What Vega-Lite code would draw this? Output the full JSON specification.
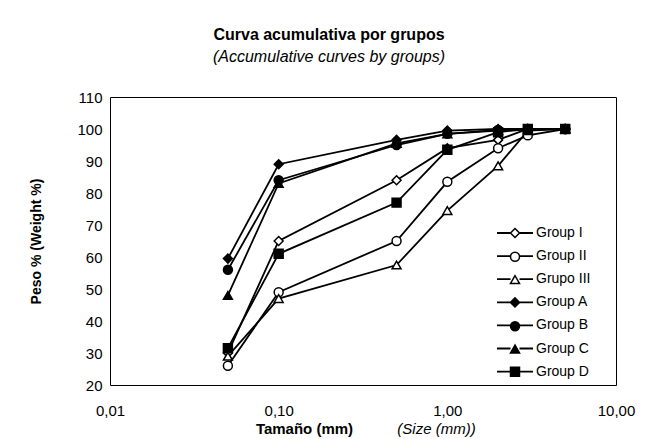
{
  "$schema": "https://vega.github.io/schema/vega-lite/v6.json",
  "width": 506,
  "height": 288,
  "autosize": {"type": "none"},
  "padding": {"left": 110, "top": 97, "right": 39, "bottom": 54},
  "background": "white",
  "config": {
    "view": {"stroke": "black", "strokeWidth": 1},
    "font": "Liberation Sans",
    "axis": {"grid": false, "ticks": false, "domain": false, "labelColor": "black", "titleColor": "black", "labelFont": "Liberation Sans", "titleFont": "Liberation Sans", "labelOverlap": false},
    "legend": {"labelFont": "Liberation Sans", "labelColor": "black"}
  },
  "title": {
    "text": "Curva acumulativa por grupos",
    "subtitle": "(Accumulative curves by groups)",
    "anchor": "middle",
    "offset": 25,
    "dx": -34,
    "font": "Liberation Sans",
    "fontSize": 16,
    "fontWeight": "bold",
    "color": "black",
    "subtitleFont": "Liberation Sans",
    "subtitleFontSize": 16,
    "subtitleFontStyle": "italic",
    "subtitleColor": "black",
    "subtitlePadding": 6
  },
  "data": {
    "values": [
      {"g": "Group I", "x": 0.05, "y": 30},
      {"g": "Group I", "x": 0.1, "y": 65},
      {"g": "Group I", "x": 0.5, "y": 84},
      {"g": "Group I", "x": 1, "y": 94},
      {"g": "Group I", "x": 2, "y": 96.6},
      {"g": "Group I", "x": 3, "y": 100},
      {"g": "Group I", "x": 5, "y": 100},
      {"g": "Group II", "x": 0.05, "y": 26},
      {"g": "Group II", "x": 0.1, "y": 49},
      {"g": "Group II", "x": 0.5, "y": 65},
      {"g": "Group II", "x": 1, "y": 83.5},
      {"g": "Group II", "x": 2, "y": 94},
      {"g": "Group II", "x": 3, "y": 98},
      {"g": "Group II", "x": 5, "y": 100},
      {"g": "Grupo III", "x": 0.05, "y": 29},
      {"g": "Grupo III", "x": 0.1, "y": 47},
      {"g": "Grupo III", "x": 0.5, "y": 57.5},
      {"g": "Grupo III", "x": 1, "y": 74.5},
      {"g": "Grupo III", "x": 2, "y": 88.5},
      {"g": "Grupo III", "x": 3, "y": 99.5},
      {"g": "Grupo III", "x": 5, "y": 100},
      {"g": "Group A", "x": 0.05, "y": 59.5},
      {"g": "Group A", "x": 0.1, "y": 89},
      {"g": "Group A", "x": 0.5, "y": 96.6},
      {"g": "Group A", "x": 1, "y": 99.5},
      {"g": "Group A", "x": 2, "y": 100},
      {"g": "Group A", "x": 3, "y": 100},
      {"g": "Group A", "x": 5, "y": 100},
      {"g": "Group B", "x": 0.05, "y": 56},
      {"g": "Group B", "x": 0.1, "y": 84},
      {"g": "Group B", "x": 0.5, "y": 95},
      {"g": "Group B", "x": 1, "y": 98.5},
      {"g": "Group B", "x": 2, "y": 99.7},
      {"g": "Group B", "x": 3, "y": 100},
      {"g": "Group B", "x": 5, "y": 100},
      {"g": "Group C", "x": 0.05, "y": 48},
      {"g": "Group C", "x": 0.1, "y": 83},
      {"g": "Group C", "x": 0.5, "y": 95.5},
      {"g": "Group C", "x": 1, "y": 98.5},
      {"g": "Group C", "x": 2, "y": 99.5},
      {"g": "Group C", "x": 3, "y": 100},
      {"g": "Group C", "x": 5, "y": 100},
      {"g": "Group D", "x": 0.05, "y": 31.5},
      {"g": "Group D", "x": 0.1, "y": 61},
      {"g": "Group D", "x": 0.5, "y": 77},
      {"g": "Group D", "x": 1, "y": 93.5},
      {"g": "Group D", "x": 2, "y": 99},
      {"g": "Group D", "x": 3, "y": 100},
      {"g": "Group D", "x": 5, "y": 100}
    ]
  },
  "layer": [
    {
      "mark": {"type": "line", "strokeWidth": 1.8},
      "encoding": {
        "x": {
          "field": "x",
          "type": "quantitative",
          "scale": {"type": "log", "domain": [0.01, 10]},
          "axis": {
            "orient": "bottom",
            "values": [0.01, 0.1, 1, 10],
            "labelExpr": "replace(format(datum.value, '.2f'), '.', ',')",
            "labelFontSize": 15,
            "labelPadding": 18,
            "labelFlush": false,
            "labelOverlap": false,
            "title": "Tamaño (mm)",
            "titleFontSize": 15,
            "titleFontWeight": "bold",
            "titleX": 194,
            "titleY": 48,
            "titleAlign": "center",
            "titleBaseline": "alphabetic"
          }
        },
        "y": {
          "field": "y",
          "type": "quantitative",
          "scale": {"domain": [20, 110], "nice": false, "zero": false},
          "axis": {
            "values": [20, 30, 40, 50, 60, 70, 80, 90, 100, 110],
            "labelOverlap": false,
            "labelFontSize": 15,
            "labelPadding": 8,
            "title": "Peso % (Weight %)",
            "titleFontSize": 14,
            "titleFontWeight": "bold",
            "titlePadding": 33
          }
        },
        "stroke": {
          "field": "g",
          "type": "nominal",
          "sort": null,
          "scale": {"range": ["black", "black", "black", "black", "black", "black", "black"]},
          "legend": {
            "title": null,
            "orient": "none",
            "legendX": 398,
            "legendY": 129,
            "padding": 0,
            "symbolType": "M-4,0H-1M1,0H4",
            "symbolSize": 81,
            "symbolStrokeWidth": 1.8,
            "labelFontSize": 14,
            "labelOffset": 14,
            "rowPadding": 9.1
          }
        }
      }
    },
    {
      "mark": {"type": "point", "filled": true, "stroke": "black", "strokeWidth": 1.5, "size": 80, "opacity": 1},
      "encoding": {
        "x": {
          "field": "x",
          "type": "quantitative",
          "axis": {
            "orient": "bottom",
            "labels": false,
            "title": "(Size (mm))",
            "titleFontSize": 15,
            "titleFontWeight": "normal",
            "titleFontStyle": "italic",
            "titleX": 326,
            "titleY": 48,
            "titleAlign": "center",
            "titleBaseline": "alphabetic"
          }
        },
        "y": {
          "field": "y",
          "type": "quantitative",
          "axis": {
            "values": [20, 30, 40, 50, 60, 70, 80, 90, 100, 110],
            "labelOverlap": false,
            "labelFontSize": 15,
            "labelPadding": 8,
            "title": "Peso % (Weight %)",
            "titleFontSize": 14,
            "titleFontWeight": "bold",
            "titlePadding": 33
          }
        },
        "shape": {
          "field": "g",
          "type": "nominal",
          "scale": {
            "domain": ["Group I", "Group II", "Grupo III", "Group A", "Group B", "Group C", "Group D"],
            "range": ["diamond", "circle", "triangle-up", "diamond", "circle", "triangle-up", "square"]
          },
          "legend": {
            "title": null,
            "orient": "none",
            "legendX": 398,
            "legendY": 129,
            "padding": 0,
            "symbolSize": 81,
            "symbolStrokeWidth": 1.5,
            "labelFontSize": 14,
            "labelOffset": 14,
            "labelOpacity": 0,
            "rowPadding": 7.8
          }
        },
        "fill": {
          "field": "g",
          "type": "nominal",
          "scale": {
            "domain": ["Group I", "Group II", "Grupo III", "Group A", "Group B", "Group C", "Group D"],
            "range": ["white", "white", "white", "black", "black", "black", "black"]
          },
          "legend": {
            "title": null,
            "orient": "none",
            "legendX": 398,
            "legendY": 129,
            "padding": 0,
            "symbolSize": 81,
            "symbolStrokeWidth": 1.5,
            "labelFontSize": 14,
            "labelOffset": 14,
            "labelOpacity": 0,
            "rowPadding": 7.8
          }
        }
      }
    }
  ],
  "resolve": {"axis": {"x": "independent"}}
}
